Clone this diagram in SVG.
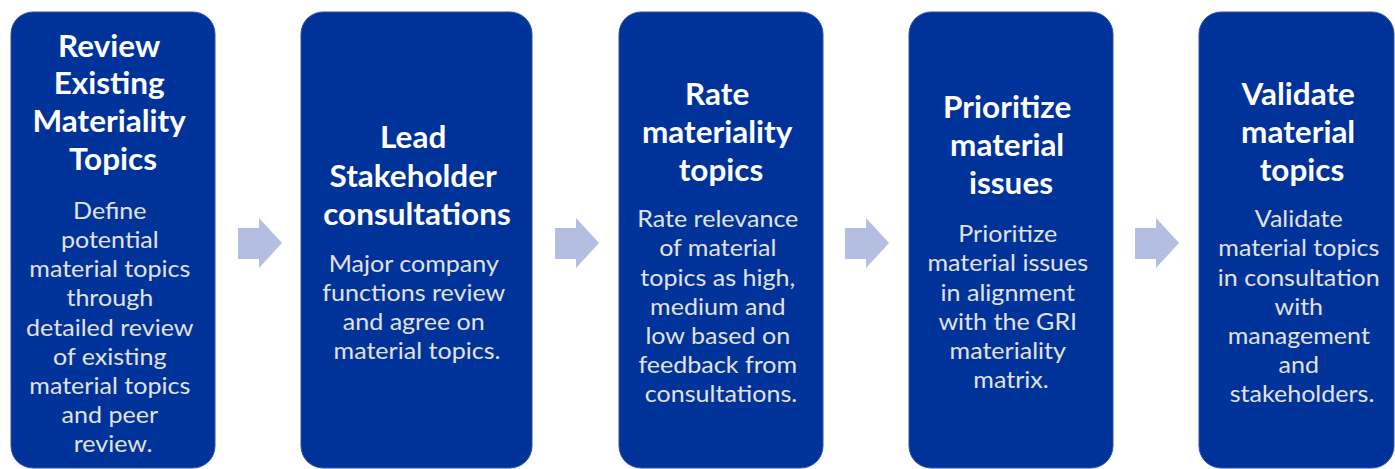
<svg xmlns="http://www.w3.org/2000/svg" width="1395" height="469" viewBox="0 0 1395 469">
  <style>
    .box { fill: #003399; stroke: #2d52a6; stroke-width: 1; }
    .title { font-family: Lato, "Liberation Sans", sans-serif; font-weight: bold; font-size: 30px; fill: #ffffff; text-anchor: middle; }
    .body { font-family: Lato, "Liberation Sans", sans-serif; font-size: 23px; fill: #e2e2e2; text-anchor: middle; }
    .arrow { fill: #b3bee1; }
  </style>
  <rect width="1395" height="469" fill="#ffffff"/>

  <!-- step 1 (text widened slightly around its centre line) -->
  <g id="step-review">
    <rect class="box" x="11" y="12" width="204" height="456" rx="22"/>
    <text class="title" transform="matrix(1.05 0 0 1 -5.65 0)">
      <tspan x="113" y="56.7">Review</tspan>
      <tspan x="113" y="94.5">Existing</tspan>
      <tspan x="113" y="132.3">Materiality</tspan>
      <tspan x="113" y="170.1">Topics</tspan>
    </text>
    <text class="body" transform="matrix(1.09 0 0 1 -10.17 0)">
      <tspan x="113" y="219.2">Define</tspan>
      <tspan x="113" y="248.3">potential</tspan>
      <tspan x="113" y="277.4">material topics</tspan>
      <tspan x="113" y="306.5">through</tspan>
      <tspan x="113" y="335.6">detailed review</tspan>
      <tspan x="113" y="364.7">of existing</tspan>
      <tspan x="113" y="393.8">material topics</tspan>
      <tspan x="113" y="422.9">and peer</tspan>
      <tspan x="113" y="452">review.</tspan>
    </text>
  </g>

  <!-- step 2 -->
  <g id="step-lead">
    <rect class="box" x="301" y="12" width="231" height="456" rx="22"/>
    <text class="title" transform="matrix(1.05 0 0 1 -20.85 0)">
      <tspan x="417" y="148.3">Lead</tspan>
      <tspan x="417" y="186.8">Stakeholder</tspan>
      <tspan x="417" y="225.3">consultations</tspan>
    </text>
    <text class="body" transform="matrix(1.09 0 0 1 -37.53 0)">
      <tspan x="417" y="271.7">Major company</tspan>
      <tspan x="417" y="300.9">functions review</tspan>
      <tspan x="417" y="330.1">and agree on</tspan>
      <tspan x="417" y="359.3">material topics.</tspan>
    </text>
  </g>

  <!-- step 3 -->
  <g id="step-rate">
    <rect class="box" x="619" y="12" width="204" height="456" rx="22"/>
    <text class="title" transform="matrix(1.05 0 0 1 -36.05 0)">
      <tspan x="721" y="105">Rate</tspan>
      <tspan x="721" y="142.8">materiality</tspan>
      <tspan x="721" y="180.6">topics</tspan>
    </text>
    <text class="body" transform="matrix(1.09 0 0 1 -64.89 0)">
      <tspan x="721" y="227.3">Rate relevance</tspan>
      <tspan x="721" y="256.5">of material</tspan>
      <tspan x="721" y="285.7">topics as high,</tspan>
      <tspan x="721" y="314.9">medium and</tspan>
      <tspan x="721" y="344.1">low based on</tspan>
      <tspan x="721" y="373.3">feedback from</tspan>
      <tspan x="721" y="402.5">consultations.</tspan>
    </text>
  </g>

  <!-- step 4 -->
  <g id="step-prioritize">
    <rect class="box" x="909" y="12" width="204" height="456" rx="22"/>
    <text class="title" transform="matrix(1.05 0 0 1 -50.55 0)">
      <tspan x="1011" y="118.3">Prioritize</tspan>
      <tspan x="1011" y="156.1">material</tspan>
      <tspan x="1011" y="193.9">issues</tspan>
    </text>
    <text class="body" transform="matrix(1.09 0 0 1 -90.99 0)">
      <tspan x="1011" y="242.3">Prioritize</tspan>
      <tspan x="1011" y="271.5">material issues</tspan>
      <tspan x="1011" y="300.7">in alignment</tspan>
      <tspan x="1011" y="329.9">with the GRI</tspan>
      <tspan x="1011" y="359.1">materiality</tspan>
      <tspan x="1011" y="388.3">matrix.</tspan>
    </text>
  </g>

  <!-- step 5 -->
  <g id="step-validate">
    <rect class="box" x="1199" y="12" width="195" height="456" rx="22"/>
    <text class="title" transform="matrix(1.05 0 0 1 -65.1 0)">
      <tspan x="1302" y="105">Validate</tspan>
      <tspan x="1302" y="142.8">material</tspan>
      <tspan x="1302" y="180.6">topics</tspan>
    </text>
    <text class="body" transform="matrix(1.09 0 0 1 -117.18 0)">
      <tspan x="1302" y="227.3">Validate</tspan>
      <tspan x="1302" y="256.5">material topics</tspan>
      <tspan x="1302" y="285.7">in consultation</tspan>
      <tspan x="1302" y="314.9">with</tspan>
      <tspan x="1302" y="344.1">management</tspan>
      <tspan x="1302" y="373.3">and</tspan>
      <tspan x="1302" y="402.5">stakeholders.</tspan>
    </text>
  </g>

  <!-- block arrows between steps -->
  <g id="connectors">
    <polygon class="arrow" points="238,228 259,228 259,218 282,243 259,268 259,259 238,259"/>
    <polygon class="arrow" points="555,228 576,228 576,218 599,243 576,268 576,259 555,259"/>
    <polygon class="arrow" points="845,228 866,228 866,218 889,243 866,268 866,259 845,259"/>
    <polygon class="arrow" points="1135,228 1156,228 1156,218 1179,243 1156,268 1156,259 1135,259"/>
  </g>
</svg>
